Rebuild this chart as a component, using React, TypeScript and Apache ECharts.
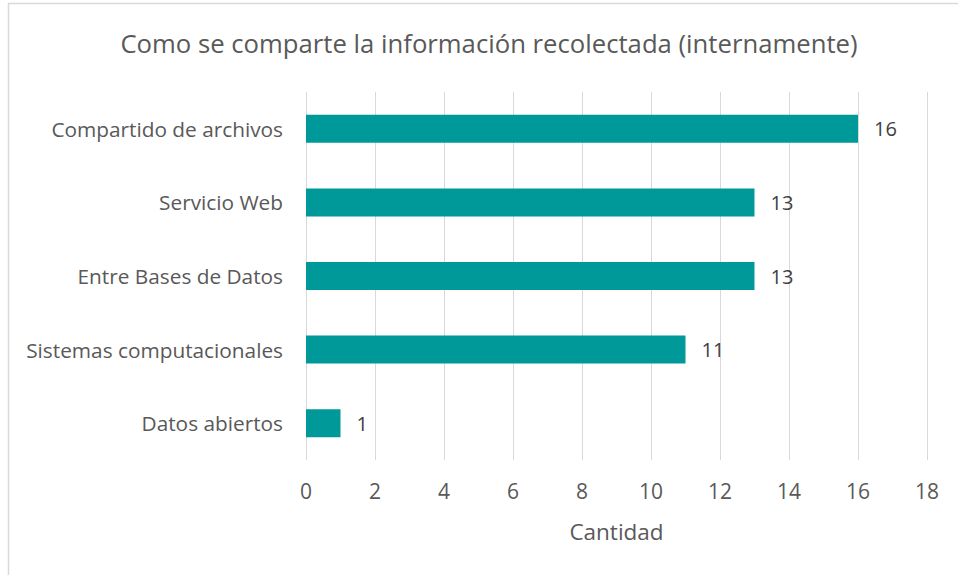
import React, { useEffect, useRef } from "react";
import * as echarts from "echarts";

const categories = [
  "Datos abiertos",
  "Sistemas computacionales",
  "Entre Bases de Datos",
  "Servicio Web",
  "Compartido de archivos",
];
const values = [1, 11, 13, 13, 16];
const titleText = "Como se comparte la información recolectada (internamente)";
const axisName = "Cantidad";

export default function App() {
  const ref = useRef<HTMLDivElement>(null);
  useEffect(() => {
    if (!ref.current) return;
    const chart = echarts.init(ref.current, null, { renderer: "svg" });
    const font = "'Open Sans', sans-serif";
    chart.setOption({
      animation: false,
      backgroundColor: "#ffffff",
      title: {
        text: titleText,
        left: 484,
        top: 25,
        textAlign: "center",
        textStyle: { fontFamily: font, fontSize: 25.7, fontWeight: "normal", color: "#595959" },
      },
      grid: { left: 306, right: 31, top: 92, bottom: 115, containLabel: false },
      xAxis: {
        type: "value",
        min: 0,
        max: 18,
        interval: 2,
        name: axisName,
        nameLocation: "middle",
        nameGap: 60,
        nameTextStyle: { fontFamily: font, fontSize: 22.5, color: "#595959" },
        axisLine: { show: false },
        axisTick: { show: false },
        axisLabel: { fontFamily: font, fontSize: 21, color: "#595959", margin: 20 },
        splitLine: { show: true, lineStyle: { color: "#d9d9d9", width: 1 } },
      },
      yAxis: {
        type: "category",
        data: categories,
        axisLine: { show: false },
        axisTick: { show: false },
        axisLabel: { fontFamily: font, fontSize: 20.8, color: "#595959", margin: 23 },
        splitLine: { show: false },
      },
      series: [
        {
          type: "bar",
          data: values,
          barWidth: 28,
          itemStyle: { color: "#009999" },
          label: {
            show: true,
            position: "right",
            distance: 16,
            fontFamily: font,
            fontSize: 20,
            color: "#404040",
          },
        },
      ],
      graphic: [
        { type: "line", shape: { x1: 8.5, y1: 3, x2: 8.5, y2: 575 }, style: { stroke: "#d9d9d9", lineWidth: 1.5 } },
        { type: "line", shape: { x1: 8, y1: 3.5, x2: 958, y2: 3.5 }, style: { stroke: "#d9d9d9", lineWidth: 1.5 } },
      ],
    });
    return () => chart.dispose();
  }, []);
  return (
    <div
      ref={ref}
      style={{ position: "absolute", left: 0, top: 0, width: 958, height: 575 }}
    />
  );
}
